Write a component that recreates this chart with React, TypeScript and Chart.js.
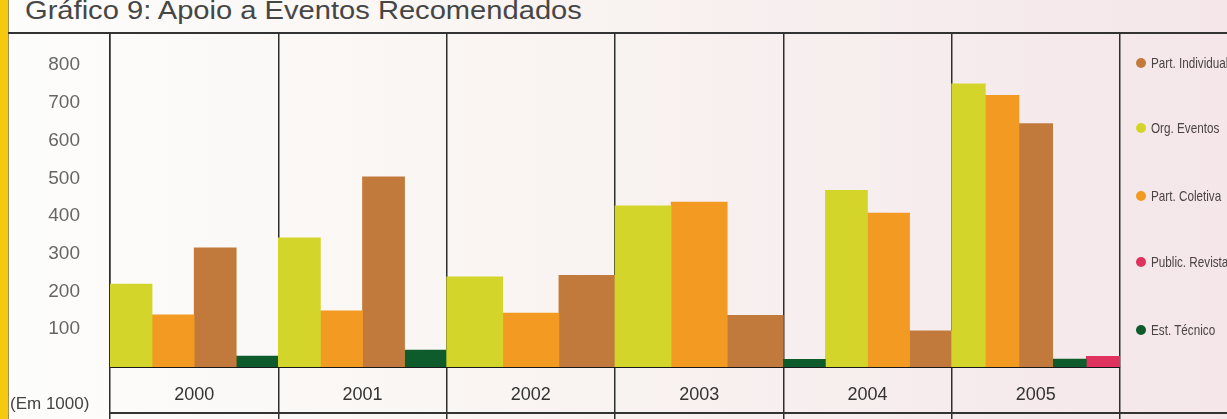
import React, { useEffect, useRef } from 'react';
import { Chart, ChartConfiguration, registerables } from 'chart.js';

Chart.register(...registerables);

const years = ['2000', '2001', '2002', '2003', '2004', '2005'];
const orgEventos = [220, 342, 239, 427, 468, 750];
const partColetiva = [138, 149, 143, 437, 408, 720];
const partIndividual = [316, 504, 243, 137, 96, 645];
const publicRevista = [null, null, null, null, null, 28];
const estTecnico = [29, 45, null, null, null, 21];
// in 2004 the green bar stands in front of the others
const estTecnicoFront = [null, null, null, null, 20, null];
const yTicks = [100, 200, 300, 400, 500, 600, 700, 800];

const legendLabels = ['Part. Individual', 'Org. Eventos', 'Part. Coletiva', 'Public. Revista', 'Est. Técnico'];
const legendColors = ['#c27a3c', '#d3d52a', '#f29a21', '#e0325e', '#0e5c2c'];
const legendTops = [63, 128, 196, 262, 330];

const COLORS = {
    org: '#d3d52a',
    col: '#f29a21',
    ind: '#c27a3c',
    pub: '#e0325e',
    est: '#0e5c2c',
};

const BarChart: React.FC = () => {
    const canvasRef = useRef<HTMLCanvasElement>(null);

    useEffect(() => {
        if (!canvasRef.current) return;
        const ctx = canvasRef.current.getContext('2d');
        if (!ctx) return;

        Chart.defaults.font.family = '"Liberation Sans", Arial, sans-serif';

        const config: ChartConfiguration = {
            type: 'bar',
            data: {
                labels: years,
                datasets: [
                    { label: 'Est. Técnico', data: estTecnicoFront, backgroundColor: COLORS.est },
                    { label: 'Org. Eventos', data: orgEventos, backgroundColor: COLORS.org },
                    { label: 'Part. Coletiva', data: partColetiva, backgroundColor: COLORS.col },
                    { label: 'Part. Individual', data: partIndividual, backgroundColor: COLORS.ind },
                    { label: 'Est. Técnico', data: estTecnico, backgroundColor: COLORS.est },
                    { label: 'Public. Revista', data: publicRevista, backgroundColor: COLORS.pub },
                ] as any,
            },
            options: {
                responsive: true,
                maintainAspectRatio: false,
                animation: false,
                skipNull: true,
                datasets: {
                    bar: {
                        barPercentage: 1,
                        categoryPercentage: 1,
                    },
                },
                layout: {
                    padding: { left: 0, right: 107, top: 0, bottom: 0 },
                },
                scales: {
                    x: {
                        grid: {
                            color: '#2e2e2e',
                            lineWidth: 1.5,
                            tickLength: 52,
                            offset: true,
                        },
                        border: { color: '#1a1a1a', width: 2 },
                        ticks: {
                            color: '#333',
                            font: { size: 18 },
                            padding: -35,
                            maxRotation: 0,
                        },
                        afterFit: (s: any) => { s.height = 52; },
                    },
                    y: {
                        min: 0,
                        max: 885,
                        grid: { display: false },
                        border: { color: '#2e2e2e', width: 1.5 },
                        ticks: {
                            stepSize: 100,
                            color: '#666',
                            font: { size: 19 },
                            padding: 22,
                            callback: (v) => (yTicks.includes(Number(v)) ? String(v) : ''),
                        },
                        afterFit: (s: any) => {
                            s.width = 102;
                            s.paddingTop = 0;
                            s.paddingBottom = 0;
                        },
                    },
                },
                plugins: {
                    legend: { display: false },
                    tooltip: { enabled: false },
                },
            },
        };

        const chart = new Chart(ctx, config);
        return () => chart.destroy();
    }, []);

    return <canvas ref={canvasRef} />;
};

const App: React.FC = () => {
    return (
        <div
            style={{
                position: 'fixed',
                left: 0,
                top: 0,
                width: 1227,
                height: 419,
                overflow: 'hidden',
                background: 'linear-gradient(90deg, #fdfdfb 0%, #f9f4f2 45%, #f4e6e9 100%)',
                fontFamily: '"Liberation Sans", Arial, sans-serif',
            }}
        >
            <div style={{ position: 'absolute', left: 0, top: 0, width: 8, height: 419, background: '#f6c90e', borderRight: '1px solid #9a9060' }} />
            <div style={{ position: 'absolute', left: 25, top: -5, fontSize: 26, lineHeight: '30px', color: '#464646', whiteSpace: 'nowrap', transform: 'scaleX(1.12)', transformOrigin: 'left center' }}>
                Gráfico 9: Apoio a Eventos Recomendados
            </div>
            <div style={{ position: 'absolute', left: 8, top: 32, width: 1219, height: 2, background: '#333' }} />
            <div style={{ position: 'absolute', left: 8, top: 33, width: 1219, height: 386 }}>
                <BarChart />
            </div>
            <div style={{ position: 'absolute', left: 110, top: 412, width: 1117, height: 2, background: '#333' }} />
            <div style={{ position: 'absolute', left: 10, top: 394, fontSize: 17, color: '#444', whiteSpace: 'nowrap' }}>
                (Em 1000)
            </div>
            {legendLabels.map((label, i) => (
                <div
                    key={label}
                    style={{ position: 'absolute', left: 1136, top: legendTops[i] - 9, display: 'flex', alignItems: 'center', whiteSpace: 'nowrap' }}
                >
                    <span style={{ display: 'inline-block', width: 10, height: 10, borderRadius: 5, background: legendColors[i], marginRight: 5 }} />
                    <span style={{ fontFamily: '"Liberation Sans Narrow", "Liberation Sans", Arial', fontSize: 15, color: '#4a4444', display: 'inline-block', transform: 'scaleX(0.78)', transformOrigin: 'left center', lineHeight: '18px' }}>
                        {label}
                    </span>
                </div>
            ))}
        </div>
    );
};

export default App;
